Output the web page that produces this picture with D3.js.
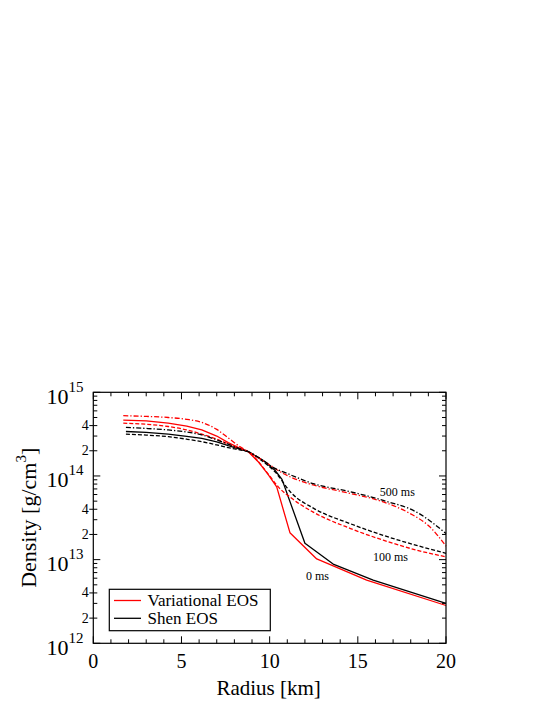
<!DOCTYPE html>
<html>
<head>
<meta charset="utf-8">
<script src="https://cdn.jsdelivr.net/npm/d3@7"></script>
<style>
  html, body { margin: 0; padding: 0; background: #fff; }
  svg { display: block; }
  text { font-family: "Liberation Serif", "DejaVu Serif", serif; fill: #000; }
</style>
</head>
<body>
<svg id="chart" width="545" height="705"></svg>
<script>
// ---- data (radius km, density g/cm^3) ----
const var0ms = [[1.7,4.65e14],[3.0,4.55e14],[4.25,4.27e14],[5.3,3.95e14],[6.15,3.55e14],[7.0,3.0e14],[7.65,2.5e14],[8.3,2.15e14],[8.79,1.95e14],[9.35,1.48e14],[9.9,1.05e14],[10.4,7.4e13],[11.15,2.1e13],[12.67,1.02e13],[15.5,5.7e12],[20,2.83e12]];
const shen0ms = [[1.85,3.4e14],[3.0,3.32e14],[4.25,3.16e14],[5.3,2.98e14],[6.15,2.82e14],[7.0,2.55e14],[7.65,2.3e14],[8.3,2.1e14],[8.79,1.95e14],[9.6,1.55e14],[10.3,1.17e14],[10.7,9.1e13],[12.0,1.57e13],[13.6,8.85e12],[15.87,5.7e12],[20,3.0e12]];
const var100ms = [[1.7,4.27e14],[3.0,4.15e14],[4.25,3.9e14],[5.3,3.55e14],[6.15,3.16e14],[7.0,2.75e14],[7.65,2.4e14],[8.3,2.12e14],[8.79,1.95e14],[9.4,1.45e14],[10.0,1.0e14],[10.49,7.4e13],[11.25,5.4e13],[12.47,3.7e13],[14.55,2.37e13],[16.44,1.71e13],[18.33,1.3e13],[20,1.08e13]];
const shen100ms = [[1.85,3.16e14],[3.0,3.08e14],[4.25,2.95e14],[5.3,2.75e14],[6.15,2.57e14],[7.0,2.35e14],[7.65,2.18e14],[8.3,2.05e14],[8.79,1.95e14],[9.6,1.5e14],[10.3,1.12e14],[11.25,6.2e13],[12.5,4.1e13],[14.55,2.7e13],[16.44,1.95e13],[18.33,1.48e13],[20,1.19e13]];
const var500ms = [[1.7,5.25e14],[3.0,5.15e14],[4.25,5.0e14],[5.3,4.75e14],[6.15,4.37e14],[7.0,3.6e14],[7.65,2.85e14],[8.3,2.25e14],[8.79,1.95e14],[9.73,1.48e14],[10.77,1.07e14],[11.9,8.5e13],[12.47,7.8e13],[14.55,6.2e13],[16.44,4.9e13],[17.95,3.57e13],[19.08,2.47e13],[20,1.45e13]];
const shen500ms = [[1.85,3.8e14],[3.0,3.7e14],[4.25,3.55e14],[5.3,3.35e14],[6.15,3.1e14],[7.0,2.7e14],[7.65,2.4e14],[8.3,2.12e14],[8.79,1.95e14],[9.6,1.55e14],[10.3,1.23e14],[10.77,1.12e14],[12.47,8.1e13],[14.55,6.5e13],[16.44,5.1e13],[18.33,3.7e13],[20,2.05e13]];

const xMajorTicks = [0, 5, 10, 15, 20];
const yDecades = [12, 13, 14, 15];
const yMinorLabels = [2, 4];
const legendLabels = ["Variational EOS", "Shen EOS"];
const timeLabels = [
  {text: "500 ms", r: 16.25, rho: 5.75e13},
  {text: "100 ms", r: 15.86, rho: 9.6e12},
  {text: "0 ms", r: 12.06, rho: 5.7e12}
];

// ---- layout ----
const L = 93.3, R = 446, T = 392.3, B = 643.3;
const svg = d3.select("#chart");
const x = d3.scaleLinear().domain([0, 20]).range([L, R]);
const y = d3.scaleLog().domain([1e12, 1e15]).range([B, T]);

const series = [
  {data: var0ms, color: "#ff0000", dash: null, curve: d3.curveLinear},
  {data: shen0ms, color: "#000000", dash: null, curve: d3.curveLinear},
  {data: var100ms, color: "#ff0000", dash: "4,2", curve: d3.curveMonotoneX},
  {data: shen100ms, color: "#000000", dash: "4,2", curve: d3.curveMonotoneX},
  {data: var500ms, color: "#ff0000", dash: "5,2,1.3,2", curve: d3.curveMonotoneX},
  {data: shen500ms, color: "#000000", dash: "5,2,1.3,2", curve: d3.curveMonotoneX}
];

const gLines = svg.append("g");
series.forEach(s => {
  const line = d3.line().x(d => x(d[0])).y(d => y(d[1])).curve(s.curve);
  gLines.append("path")
    .attr("d", line(s.data))
    .attr("fill", "none")
    .attr("stroke", s.color)
    .attr("stroke-width", 1.3)
    .attr("stroke-linejoin", "round")
    .attr("stroke-dasharray", s.dash);
});

// frame
svg.append("rect").attr("x", L).attr("y", T).attr("width", R - L).attr("height", B - T)
  .attr("fill", "none").attr("stroke", "#000").attr("stroke-width", 1.2);

const ticks = svg.append("g").attr("stroke", "#000").attr("stroke-width", 1);
// x ticks
for (let v = 0; v <= 20; v++) {
  const len = (v % 5 === 0) ? 7 : 4;
  ticks.append("line").attr("x1", x(v)).attr("x2", x(v)).attr("y1", B).attr("y2", B - len);
  ticks.append("line").attr("x1", x(v)).attr("x2", x(v)).attr("y1", T).attr("y2", T + len);
}
// y ticks
yDecades.forEach(d => {
  const v = Math.pow(10, d);
  ticks.append("line").attr("x1", L).attr("x2", L + 7).attr("y1", y(v)).attr("y2", y(v));
  ticks.append("line").attr("x1", R).attr("x2", R - 7).attr("y1", y(v)).attr("y2", y(v));
  if (d < 15) {
    for (let m = 2; m <= 9; m++) {
      const mv = m * v;
      ticks.append("line").attr("x1", L).attr("x2", L + 4).attr("y1", y(mv)).attr("y2", y(mv));
      ticks.append("line").attr("x1", R).attr("x2", R - 4).attr("y1", y(mv)).attr("y2", y(mv));
    }
    yMinorLabels.forEach(m => {
      ticks.append("line").attr("x1", L).attr("x2", L - 4).attr("y1", y(m * v)).attr("y2", y(m * v));
    });
  }
});

// x tick labels
xMajorTicks.forEach(v => {
  svg.append("text").attr("x", x(v)).attr("y", B + 25)
    .attr("text-anchor", "middle").attr("font-size", 20).text(v);
});
// y decade labels
yDecades.forEach(d => {
  const t = svg.append("text").attr("x", 46.5).attr("y", y(Math.pow(10, d)) + 11.5)
    .attr("font-size", 22);
  t.append("tspan").text("10");
  t.append("tspan").attr("dy", -12).attr("font-size", 15).text(d);
});
// y minor labels
yDecades.slice(0, 3).forEach(d => {
  yMinorLabels.forEach(m => {
    svg.append("text").attr("x", L - 4.5).attr("y", y(m * Math.pow(10, d)) + 4.5)
      .attr("text-anchor", "end").attr("font-size", 14).text(m);
  });
});

// axis titles
svg.append("text").attr("x", (L + R) / 2 - 1).attr("y", 694.5)
  .attr("text-anchor", "middle").attr("font-size", 21).text("Radius [km]");
const yt = svg.append("text")
  .attr("transform", `translate(35.5,${(T + B) / 2}) rotate(-90)`)
  .attr("text-anchor", "middle").attr("font-size", 22);
yt.append("tspan").text("Density [g/cm");
yt.append("tspan").attr("dy", -10).attr("font-size", 15).text("3");
yt.append("tspan").attr("dy", 10).text("]");

// time annotations
timeLabels.forEach(a => {
  svg.append("text").attr("x", x(a.r)).attr("y", y(a.rho))
    .attr("font-size", 12).text(a.text);
});

// legend
const lg = svg.append("g");
lg.append("rect").attr("x", 109.3).attr("y", 589.3).attr("width", 161).attr("height", 41.4)
  .attr("fill", "#fff").attr("stroke", "#000").attr("stroke-width", 1.2);
const legendColors = ["#ff0000", "#000000"];
legendLabels.forEach((lab, i) => {
  const yy = 600.5 + i * 17.8;
  lg.append("line").attr("x1", 114).attr("x2", 141).attr("y1", yy).attr("y2", yy)
    .attr("stroke", legendColors[i]).attr("stroke-width", 1.3);
  lg.append("text").attr("x", 147.5).attr("y", yy + 5.3).attr("font-size", 17).text(lab);
});
</script>
</body>
</html>
